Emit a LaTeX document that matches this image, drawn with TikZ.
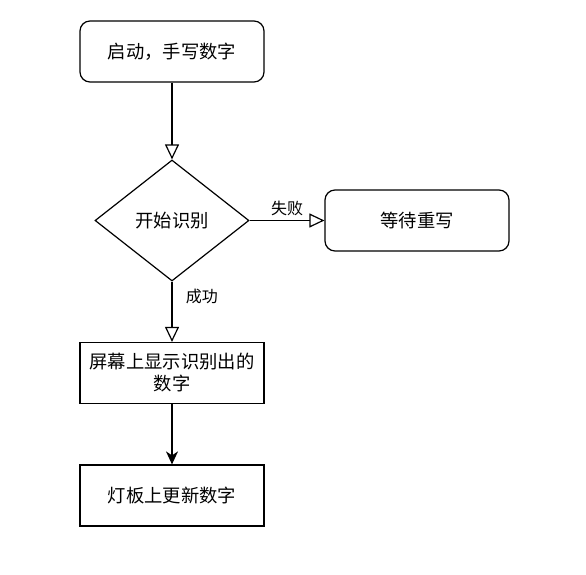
\documentclass[tikz,border=0pt]{standalone}
\usepackage{fontspec}
\setmainfont{Noto Sans CJK SC}
\usetikzlibrary{arrows.meta,shapes.geometric}
\begin{document}
\begin{tikzpicture}[x=1pt,y=-1pt,
  box/.style={draw,line width=1.2pt,minimum width=184pt,minimum height=61pt,inner sep=2pt,font=\fontsize{18.3}{22}\selectfont,align=center},
  rbox/.style={box,rounded corners=10pt},
  dia/.style={draw,line width=1.2pt,diamond,minimum width=154pt,minimum height=121pt,inner sep=0pt,font=\fontsize{18.3}{22}\selectfont},
  lbl/.style={font=\fontsize{16}{18}\selectfont},
  openarr/.style={draw,line width=1.2pt,-{Triangle[open,length=15pt,width=14pt]}},
  fillarr/.style={draw,line width=1.2pt,-{Stealth[length=13pt,width=12pt,inset=4pt]}}]
\useasboundingbox (0,0) rectangle (586,575);
\node[rbox] (start) at (172,51.5) {启动，手写数字};
\node[dia] (rec) at (172,220.5) {开始识别};
\node[rbox] (wait) at (417,220.5) {等待重写};
\node[box] (show) at (172,373) {屏幕上显示识别出的\\数字};
\node[box] (led) at (172,495.5) {灯板上更新数字};
\draw[openarr] (start) -- (rec);
\draw[openarr] (rec) -- (wait) node[lbl,midway,above=1pt] (fail) {失败};
\draw[openarr] (rec) -- (show) node[lbl,pos=0.25,right=10pt] (ok) {成功};
\draw[fillarr] (show) -- (led);
\end{tikzpicture}
\end{document}
